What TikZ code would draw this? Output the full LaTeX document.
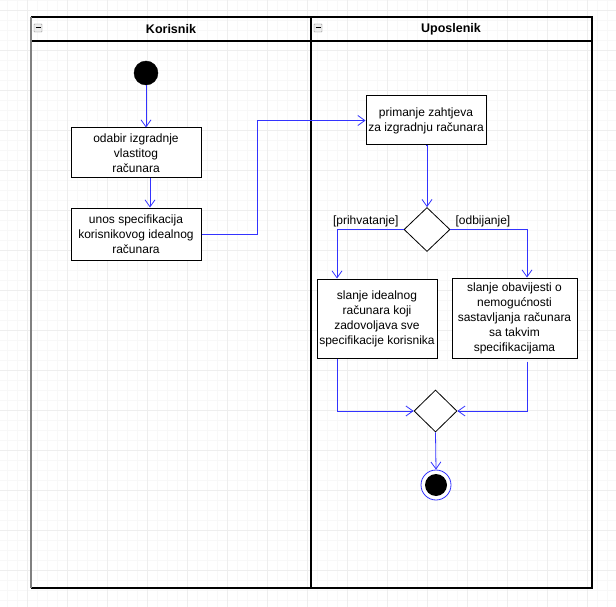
\documentclass[tikz,border=0pt]{standalone}
\usepackage{fontspec}
\setmainfont{Liberation Sans}
\usetikzlibrary{arrows.meta, shapes.geometric, calc}
\definecolor{flow}{RGB}{51,51,255}
\definecolor{gridline}{RGB}{248,248,248}
\definecolor{gridmajor}{RGB}{238,238,238}
\tikzstyle{activity} = [draw, line width=1pt, fill=white, align=center, inner sep=1pt, font=\fontsize{12}{15}\selectfont]
\tikzstyle{decision} = [draw, diamond, line width=0.8pt, fill=white, inner sep=0pt, minimum width=46, minimum height=44]
\tikzstyle{flowline} = [draw=flow, line width=0.8pt, -{Straight Barb[length=7pt,width=10pt]}]
\tikzstyle{guard} = [inner sep=1pt, font=\fontsize{12}{14}\selectfont]
\tikzstyle{lanehead} = [font=\fontsize{12.5}{14}\selectfont\bfseries]

\begin{document}
\begin{tikzpicture}[x=1pt, y=-1pt]
    \useasboundingbox (0,0) rectangle (616,607);
    % background grid
    \foreach \x in {6.7,16.7,...,616} \draw[gridline] (\x,0) -- (\x,607);
    \foreach \y in {0,10,...,607} \draw[gridline] (0,\y) -- (616,\y);
    \foreach \x in {26.7,66.7,...,616} \draw[gridmajor] (\x,0) -- (\x,607);
    \foreach \y in {10,50,...,607} \draw[gridmajor] (0,\y) -- (616,\y);
    % swimlanes
    \draw[line width=1.2pt] (31,17) -- (592,17) -- (592,588) -- (31,588);
    \draw[line width=1.2pt] (31,41) -- (592,41);
    \draw[line width=1.2pt] (311,17) -- (311,588);
    \draw[line width=2pt, gray] (31,17) -- (31,588);
    \foreach \lx in {38,318} {
        \draw[gray, fill=gray!15, rounded corners=0.5pt] (\lx-4,24) rectangle (\lx+4,32);
        \draw[line width=1pt] (\lx-2.5,28) -- (\lx+2.5,28);
    }
    \node[lanehead] (korisnik) at (171,29) {Korisnik};
    \node[lanehead] (uposlenik) at (451,29) {Uposlenik};
    % nodes
    \node[circle, fill=black, draw, minimum size=24, inner sep=0pt] (start) at (146,73) {};
    \node[activity, minimum width=130, minimum height=50] (odabir) at (136,153) {odabir izgradnje\\vlastitog\\računara};
    \node[activity, minimum width=130, minimum height=52] (unos) at (136,234) {unos specifikacija\\korisnikovog idealnog\\računara};
    \node[activity, minimum width=120, minimum height=49] (primanje) at (426,120.5) {primanje zahtjeva\\za izgradnju računara};
    \node[decision] (odluka) at (427,229.5) {};
    \node[activity, minimum width=120, minimum height=79] (slanje) at (377,318.5) {slanje idealnog\\računara koji\\zadovoljava sve\\specifikacije korisnika};
    \node[activity, minimum width=125, minimum height=80] (obavijest) at (514.5,318) {slanje obavijesti o\\nemogućnosti\\sastavljanja računara\\sa takvim\\specifikacijama};
    \node[decision, minimum width=43, minimum height=42] (spoj) at (435.5,411) {};
    \node[circle, draw=flow, line width=0.8pt, fill=white, minimum size=30, inner sep=0pt] (kraj) at (436,485) {};
    \node[circle, fill=black, minimum size=22, inner sep=0pt] (krajin) at (kraj) {};
    % guards
    \node[guard, anchor=south east] (prihvat) at ($(odluka.west)+(-4,-1)$) {[prihvatanje]};
    \node[guard, anchor=south west] (odbij) at ($(odluka.east)+(4,-1)$) {[odbijanje]};
    % connectors
    \draw[flowline] (start) -- (start |- odabir.north);
    \draw[flowline] ([xshift=14pt]odabir.south) -- ([xshift=14pt]unos.north);
    \draw[flowline] (unos.east) -- ++(56,0) |- (primanje.west);
    \draw[flowline] (primanje.south) -- (primanje.south -| odluka.north) -- (odluka.north);
    \draw[flowline] (odluka.west) -| ([xshift=-40pt]slanje.north);
    \draw[flowline] (odluka.east) -| ([xshift=12.5pt]obavijest.north);
    \draw[flowline] ([xshift=-40pt]slanje.south) |- (spoj.west);
    \draw[flowline] ([xshift=12.5pt,yshift=-3pt]obavijest.south) |- (spoj.east);
    \draw[flowline] (spoj.south) -- (kraj.north);
\end{tikzpicture}
\end{document}
